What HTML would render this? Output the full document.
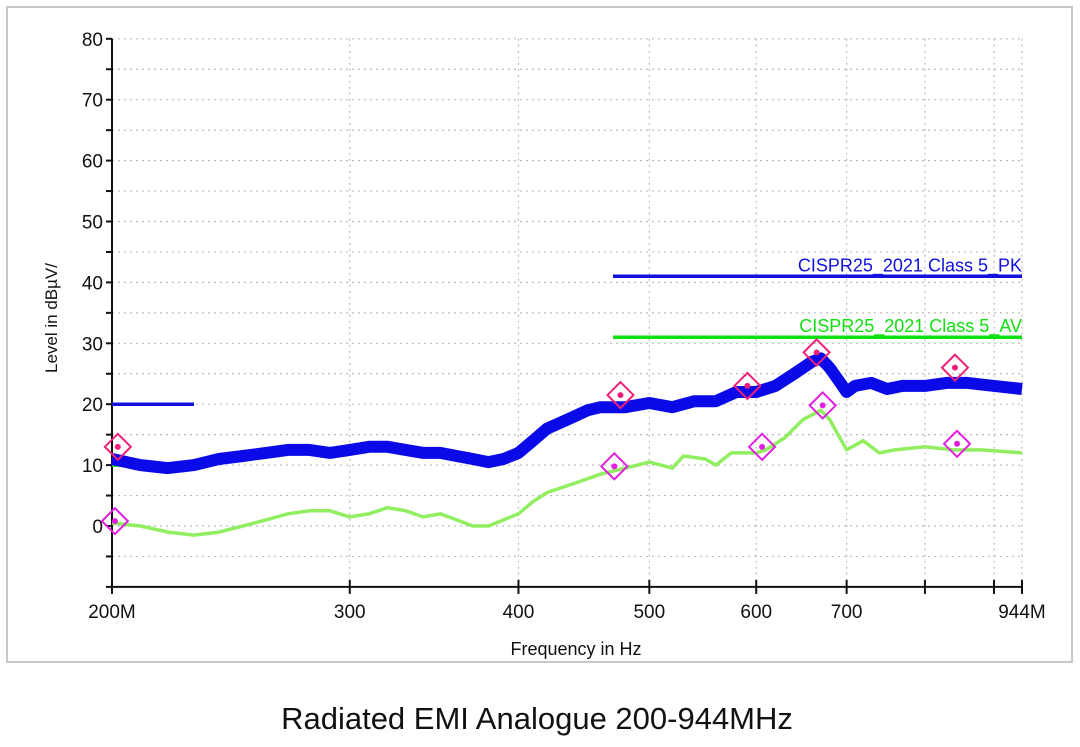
<!DOCTYPE html>
<html><head><meta charset="utf-8"><style>
body{margin:0;background:#fff;width:1080px;height:742px;overflow:hidden;font-family:"Liberation Sans",sans-serif}
svg text{font-family:"Liberation Sans",sans-serif}
</style></head><body>
<svg id="chart" width="1080" height="742" xmlns="http://www.w3.org/2000/svg">
<rect x="7" y="7" width="1065" height="655" fill="#fff" stroke="#c8c8c8" stroke-width="2"/>
<g id="grid"></g>
<g id="axes"></g>
<g id="series"></g>
<text x="57" y="318" font-size="17" fill="#111" text-anchor="middle" transform="rotate(-90 57 318)">Level in dBµV/</text>
<text x="576" y="655" font-size="18" fill="#111" text-anchor="middle">Frequency in Hz</text>
<text x="537" y="729" font-size="31" fill="#111" text-anchor="middle">Radiated EMI Analogue 200-944MHz</text>
</svg>
<script>
const yTicks=[0,10,20,30,40,50,60,70,80];
const xTickVals=[200,300,400,500,600,700,800,900,944];
const xTickLabels=["200M","300","400","500","600","700","","","944M"];
const pkFreq=[200,210,220,230,240,250,260,270,280,290,300,310,320,330,340,350,360,370,380,390,400,410,420,430,440,450,460,480,500,520,540,560,580,600,620,640,660,670,680,690,700,710,730,750,770,800,830,860,900,944];
const pkVal=[11,10,9.5,10,11,11.5,12,12.5,12.5,12,12.5,13,13,12.5,12,12,11.5,11,10.5,11,12,14,16,17,18,19,19.5,19.5,20.2,19.5,20.5,20.5,22,22,23,25,27,27.5,26,24,22,23,23.5,22.5,23,23,23.5,23.5,23,22.5];
const avFreq=[200,210,220,230,240,250,260,270,280,290,300,310,320,330,340,350,360,370,380,390,400,410,420,440,460,480,500,510,520,530,550,560,575,600,610,630,650,670,680,700,720,740,760,800,840,880,944];
const avVal=[0.5,0,-1,-1.5,-1,0,1,2,2.5,2.5,1.5,2,3,2.5,1.5,2,1,0,0,1,2,4,5.5,7,8.5,9.5,10.5,10,9.5,11.5,11,10,12,12,12.5,14.5,17.5,19,17.5,12.5,14,12,12.5,13,12.5,12.5,12];
const limitNames=["CISPR25_2021 Class 5_PK","CISPR25_2021 Class 5_AV"];
const limitLowF=[200,230];const limitHighF=[470,944];
const limitPkLow=20,limitAvLow=10,limitPkHigh=41,limitAvHigh=31;
const pkMarkF=[202,476,591,665,842];const pkMarkV=[13,21.5,23,28.5,26];
const avMarkF=[201,471,606,672,845];const avMarkV=[0.8,9.8,13,19.8,13.5];

const X0=112,X1=1022,Y0=526,PXDB=6.09;
const ln=Math.log10;
const xs=f=>X0+(X1-X0)*ln(f/200)/ln(944/200);
const ys=v=>Y0-v*PXDB;
const NS="http://www.w3.org/2000/svg";
function mk(p,t,a){const e=document.createElementNS(NS,t);for(const k in a)e.setAttribute(k,a[k]);p.appendChild(e);return e;}
const grid=document.getElementById('grid'),axes=document.getElementById('axes'),ser=document.getElementById('series');
for(let v=-10;v<=80;v+=5){const g=mk(grid,'line',{x1:X0,x2:X1,y1:ys(v),y2:ys(v),stroke:'#bbb','stroke-dasharray':'2 4','stroke-width':1.2});


const t=mk(axes,'line',{x1:X0-6,x2:X0,y1:ys(v),y2:ys(v),stroke:'#111','stroke-width':2});

}
yTicks.forEach(v=>{const t=mk(axes,'text',{x:X0-9,y:ys(v)+7,'font-size':19,'text-anchor':'end',fill:'#111'});t.textContent=v;

});
xTickVals.forEach((f,i)=>{const x=xs(f);
const g=mk(grid,'line',{x1:x,x2:x,y1:ys(80),y2:ys(-10),stroke:'#bbb','stroke-dasharray':'2 4','stroke-width':1.2});


const t=mk(axes,'line',{x1:x,x2:x,y1:ys(-10)-7,y2:ys(-10)+7,stroke:'#111','stroke-width':2});


if(xTickLabels[i]){const l=mk(axes,'text',{x:x,y:ys(-10)+31,'font-size':19,'text-anchor':'middle',fill:'#111'});l.textContent=xTickLabels[i];

}});
const ya=mk(axes,'line',{x1:X0,x2:X0,y1:ys(80),y2:ys(-10),stroke:'#111','stroke-width':2});


const xa=mk(axes,'line',{x1:X0,x2:X1,y1:ys(-10),y2:ys(-10),stroke:'#111','stroke-width':2});


function lim(f0,f1,v,c,name){const l=mk(ser,'line',{x1:xs(f0),x2:xs(f1),y1:ys(v),y2:ys(v),stroke:c,'stroke-width':3.5});

}
lim(limitLowF[0],limitLowF[1],limitPkLow,'#1010e0','pk-limit-low');
lim(limitLowF[0],limitLowF[1],limitAvLow,'#10e010','av-limit-low');
lim(limitHighF[0],limitHighF[1],limitPkHigh,'#1010e0','pk-limit-high');
lim(limitHighF[0],limitHighF[1],limitAvHigh,'#10e010','av-limit-high');
const l1=mk(ser,'text',{x:X1,y:ys(limitPkHigh)-5,'font-size':18,'text-anchor':'end',fill:'#1010e0'});l1.textContent=limitNames[0];


const l2=mk(ser,'text',{x:X1,y:ys(limitAvHigh)-5,'font-size':18,'text-anchor':'end',fill:'#10e010'});l2.textContent=limitNames[1];


function pts(F,V){return F.map((f,i)=>xs(f).toFixed(1)+','+ys(V[i]).toFixed(1)).join(' ');}
const av=mk(ser,'polyline',{points:pts(avFreq,avVal),fill:'none',stroke:'#90ee60','stroke-width':3.5,'stroke-linejoin':'round'});


const pk=mk(ser,'polyline',{points:pts(pkFreq,pkVal),fill:'none',stroke:'#0a0ae8','stroke-width':12,'stroke-linejoin':'round'});


function markers(F,V,c,name){F.forEach((f,i)=>{const x=xs(f),y=ys(V[i]);
const d=mk(ser,'polygon',{points:`${x},${y-13} ${x+13},${y} ${x},${y+13} ${x-13},${y}`,fill:'none',stroke:c,'stroke-width':2});


const s=mk(ser,'circle',{cx:x,cy:y,r:3,fill:c});

});}
markers(pkMarkF,pkMarkV,'#f0207a','pk-marker');
markers(avMarkF,avMarkV,'#e020e0','av-marker');
</script>
</body></html>
